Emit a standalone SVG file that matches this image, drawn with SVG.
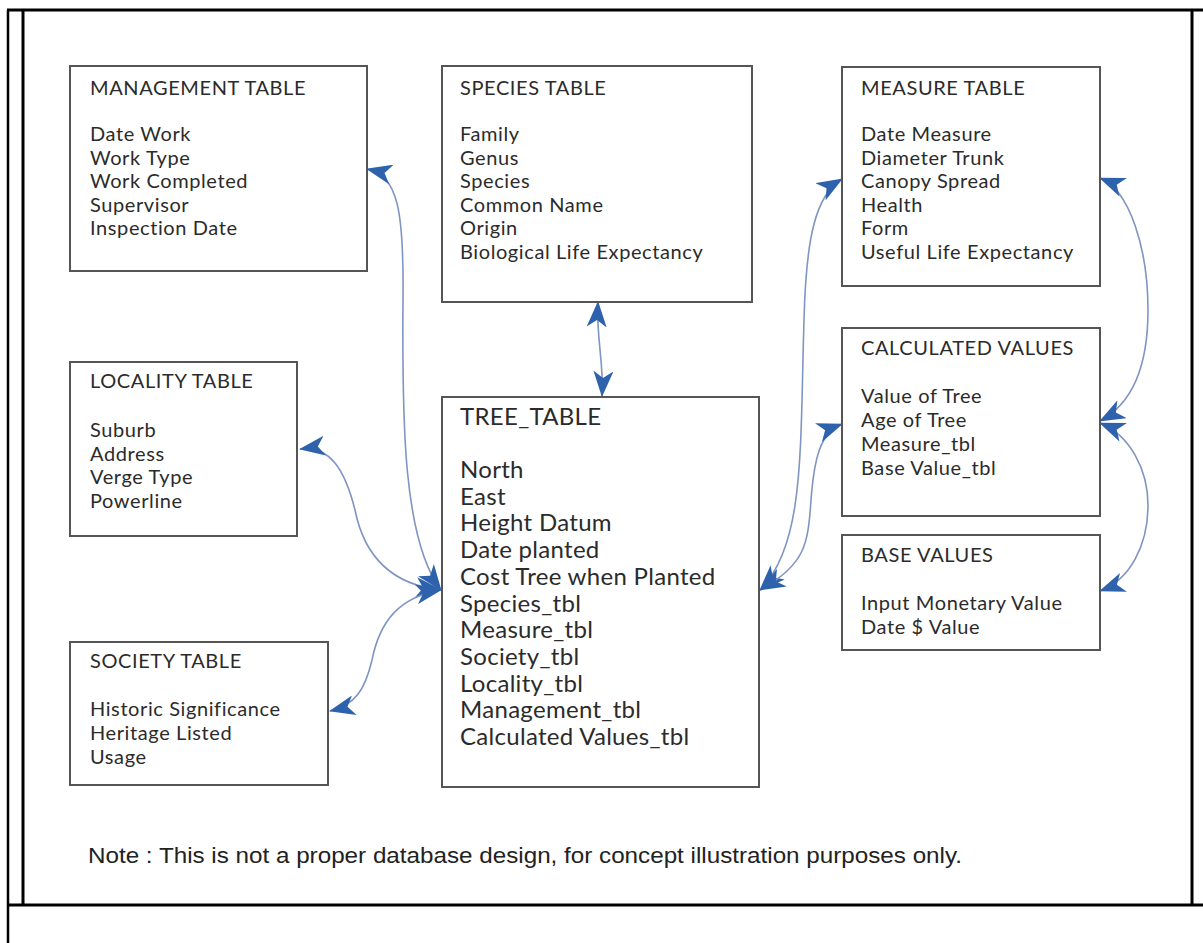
<svg xmlns="http://www.w3.org/2000/svg" width="1203" height="943" viewBox="0 0 1203 943">
<style>
.box{fill:#ffffff;stroke:#555555;stroke-width:2}
.t{font-family:Lato,"Open Sans","Liberation Sans",sans-serif;font-size:20px;letter-spacing:0.6px;fill:#2b2b2b}
.tt{font-family:Lato,"Open Sans","Liberation Sans",sans-serif;font-size:24px;letter-spacing:0.3px;fill:#2b2b2b}
.conn{fill:none;stroke:#7f95c2;stroke-width:1.6;marker-start:url(#ah);marker-end:url(#ah)}
.frame{stroke:#000;fill:none}
</style>
<defs>
<marker id="ah" markerUnits="userSpaceOnUse" viewBox="0 0 26 20" refX="25" refY="10" markerWidth="26" markerHeight="20" orient="auto-start-reverse">
<path d="M0,0 L26,10 L0,20 L7,10 Z" fill="#2f62ad"/>
</marker>
</defs>
<rect width="1203" height="943" fill="#ffffff"/>
<g id="frame">
<line class="frame" x1="8" y1="10" x2="8" y2="943" stroke-width="2.5"/>
<line class="frame" x1="7" y1="10" x2="1203" y2="10" stroke-width="3"/>
<line class="frame" x1="23" y1="10" x2="23" y2="905" stroke-width="3"/>
<line class="frame" x1="1192" y1="10" x2="1192" y2="905" stroke-width="3"/>
<line class="frame" x1="8" y1="905" x2="1203" y2="905" stroke-width="3"/>
</g>
<g id="connectors">
<path class="conn" d="M367,169 C398,176 404,210 403,300 C402,420 403,540 441,590"/>
<path class="conn" d="M300,449 C330,445 345,470 355,510 C365,560 395,585 441,590"/>
<path class="conn" d="M330,711 C355,705 365,690 372,660 C380,620 400,597 441,590"/>
<path class="conn" d="M598,302 C596,340 604,360 602,396"/>
<path class="conn" d="M842,179 C815,195 806,240 804,320 C800,450 805,545 760,590"/>
<path class="conn" d="M842,424 C820,432 814,460 811,500 C808,545 805,565 760,590"/>
<path class="conn" d="M1100,178 C1130,190 1148,250 1148,310 C1148,370 1130,405 1100,421"/>
<path class="conn" d="M1100,423 C1130,435 1148,470 1148,505 C1148,545 1130,580 1100,591"/>
</g>
<g id="management">
<rect class="box" x="70" y="66" width="297" height="205"/>
<text class="t" x="90" y="95">MANAGEMENT TABLE</text>
<text class="t" x="90" y="141">Date Work</text>
<text class="t" x="90" y="164.5">Work Type</text>
<text class="t" x="90" y="188">Work Completed</text>
<text class="t" x="90" y="211.5">Supervisor</text>
<text class="t" x="90" y="235">Inspection Date</text>
</g>
<g id="species">
<rect class="box" x="442" y="66" width="310" height="236"/>
<text class="t" x="460" y="95">SPECIES TABLE</text>
<text class="t" x="460" y="141">Family</text>
<text class="t" x="460" y="164.5">Genus</text>
<text class="t" x="460" y="188">Species</text>
<text class="t" x="460" y="211.5">Common Name</text>
<text class="t" x="460" y="235">Origin</text>
<text class="t" x="460" y="258.5">Biological Life Expectancy</text>
</g>
<g id="measure">
<rect class="box" x="842" y="67" width="258" height="219"/>
<text class="t" x="861" y="95">MEASURE TABLE</text>
<text class="t" x="861" y="141">Date Measure</text>
<text class="t" x="861" y="164.5">Diameter Trunk</text>
<text class="t" x="861" y="188">Canopy Spread</text>
<text class="t" x="861" y="211.5">Health</text>
<text class="t" x="861" y="235">Form</text>
<text class="t" x="861" y="258.5">Useful Life Expectancy</text>
</g>
<g id="locality">
<rect class="box" x="70" y="362" width="227" height="174"/>
<text class="t" x="90" y="388">LOCALITY TABLE</text>
<text class="t" x="90" y="437">Suburb</text>
<text class="t" x="90" y="460.5">Address</text>
<text class="t" x="90" y="484">Verge Type</text>
<text class="t" x="90" y="507.5">Powerline</text>
</g>
<g id="tree">
<rect class="box" x="442" y="397" width="317" height="390"/>
<text class="tt" x="460" y="425">TREE_TABLE</text>
<text class="tt" x="460" y="478">North</text>
<text class="tt" x="460" y="504.7">East</text>
<text class="tt" x="460" y="531.4">Height Datum</text>
<text class="tt" x="460" y="558.1">Date planted</text>
<text class="tt" x="460" y="584.8">Cost Tree when Planted</text>
<text class="tt" x="460" y="611.5">Species_tbl</text>
<text class="tt" x="460" y="638.2">Measure_tbl</text>
<text class="tt" x="460" y="664.9">Society_tbl</text>
<text class="tt" x="460" y="691.6">Locality_tbl</text>
<text class="tt" x="460" y="718.3">Management_tbl</text>
<text class="tt" x="460" y="745">Calculated Values_tbl</text>
</g>
<g id="calculated">
<rect class="box" x="842" y="328" width="258" height="188"/>
<text class="t" x="861" y="355">CALCULATED VALUES</text>
<text class="t" x="861" y="403">Value of Tree</text>
<text class="t" x="861" y="427">Age of Tree</text>
<text class="t" x="861" y="451">Measure_tbl</text>
<text class="t" x="861" y="475">Base Value_tbl</text>
</g>
<g id="base">
<rect class="box" x="842" y="535" width="258" height="115"/>
<text class="t" x="861" y="562">BASE VALUES</text>
<text class="t" x="861" y="610">Input Monetary Value</text>
<text class="t" x="861" y="634">Date $ Value</text>
</g>
<g id="society">
<rect class="box" x="70" y="642" width="258" height="143"/>
<text class="t" x="90" y="668">SOCIETY TABLE</text>
<text class="t" x="90" y="716">Historic Significance</text>
<text class="t" x="90" y="740">Heritage Listed</text>
<text class="t" x="90" y="764">Usage</text>
</g>
<g id="note">
<text x="88" y="863" font-family="'Liberation Sans',Arial,sans-serif" font-size="22" fill="#222" textLength="874" lengthAdjust="spacingAndGlyphs">Note : This is not a proper database design, for concept illustration purposes only.</text>
</g>
</svg>
